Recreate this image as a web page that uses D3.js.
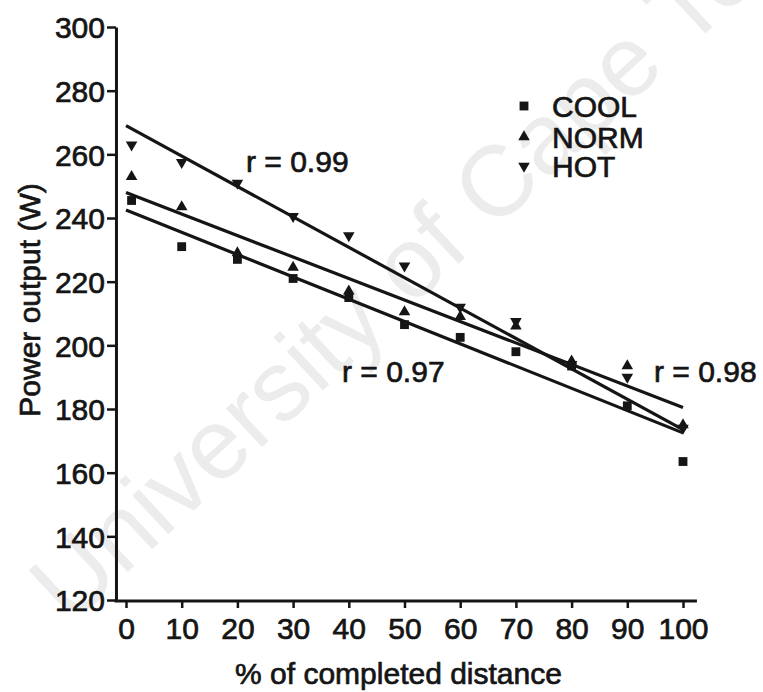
<!DOCTYPE html>
<html>
<head>
<meta charset="utf-8">
<script src="https://cdn.jsdelivr.net/npm/d3@7"></script>
<style>
  html, body { margin: 0; padding: 0; background: #fff; }
  svg { display: block; }
  text { font-family: "Liberation Sans", Arial, Helvetica, sans-serif; }
</style>
</head>
<body>
<svg id="chart" width="763" height="692"></svg>
<script>
// ---- data ----
const distance = [1, 10, 20, 30, 40, 50, 60, 70, 80, 90, 100];
const cool = [245.5, 231, 227, 221, 215, 206.5, 202.5, 198, 193.5, 181, 163.5];
const norm = [253, 243.5, 229, 224.5, 217, 210.5, 209, 206, 195, 193.5, 175];
const hot  = [263, 257.5, 251, 240.5, 234.5, 225, 212, 207.5, 194, 190, 174];

// regression lines, at 0% and 100%
const fitX = [0, 100];
const coolFit = [242.5, 172.5];
const normFit = [248, 180.5];
const hotFit  = [269, 173.5];

const seriesNames = ["COOL", "NORM", "HOT"];
const rLabels = ["r = 0.99", "r = 0.97", "r = 0.98"];
const xTicks = [0, 10, 20, 30, 40, 50, 60, 70, 80, 90, 100];
const yTicks = [120, 140, 160, 180, 200, 220, 240, 260, 280, 300];

// ---- drawing ----
const svg = d3.select("#chart");
const ink = "#151515";
const thick = 0.7;

// watermark
svg.append("text")
  .attr("transform", "translate(70,626) rotate(-43)")
  .attr("font-size", 100)
  .attr("fill", "#ececec")
  .text("University of Cape Town");

const x = d3.scaleLinear().domain([0, 100]).range([126, 683]);
const y = d3.scaleLinear().domain([120, 300]).range([600, 27]);

function styleText(sel) {
  sel.attr("font-size", 30).attr("fill", ink)
    .attr("stroke", ink).attr("stroke-width", thick)
    .attr("font-family", '"Liberation Sans", Arial, sans-serif');
}

// y axis
const yAxis = svg.append("g")
  .attr("transform", `translate(${x(-1.8)},0)`)
  .call(d3.axisLeft(y).tickValues(yTicks).tickSize(9).tickSizeOuter(0).tickPadding(2));
yAxis.select(".domain").attr("stroke", ink).attr("stroke-width", 3);
yAxis.selectAll(".tick line").attr("stroke", ink).attr("stroke-width", 2.5);
yAxis.selectAll(".tick text").call(styleText).attr("dy", "0.36em");

// x axis
const xAxis = svg.append("g")
  .attr("transform", `translate(0,${y(120) + 1})`)
  .call(d3.axisBottom(x).tickValues(xTicks).tickSize(7).tickSizeOuter(0).tickPadding(10));
xAxis.select(".domain").remove();
xAxis.append("line")
  .attr("x1", x(-1.8) - 1.5).attr("x2", x(102.5))
  .attr("y1", 0).attr("y2", 0)
  .attr("stroke", ink).attr("stroke-width", 3);
xAxis.selectAll(".tick line").attr("stroke", ink).attr("stroke-width", 2.5);
xAxis.selectAll(".tick text").call(styleText);

// axis titles
svg.append("text")
  .attr("x", (x(0) + x(100)) / 2 - 6).attr("y", 684)
  .attr("text-anchor", "middle").call(styleText)
  .text("% of completed distance");
svg.append("text")
  .attr("transform", "translate(40,300) rotate(-90)")
  .attr("text-anchor", "middle").call(styleText)
  .text("Power output (W)");

// fit lines
const fits = [coolFit, normFit, hotFit];
const line = d3.line().x(d => x(d[0])).y(d => y(d[1]));
fits.forEach(f => {
  svg.append("path")
    .attr("d", line(fitX.map((v, i) => [v, f[i]])))
    .attr("fill", "none").attr("stroke", ink).attr("stroke-width", 3.2);
});

// markers
const sq = d3.symbol().type(d3.symbolSquare).size(78);
const tri = d3.symbol().type(d3.symbolTriangle).size(58);
const markers = [
  { vals: cool, path: sq(), rot: 0 },
  { vals: norm, path: tri(), rot: 0 },
  { vals: hot,  path: tri(), rot: 180 }
];
markers.forEach(m => {
  svg.append("g").selectAll("path")
    .data(distance.map((d, i) => [d, m.vals[i]]))
    .join("path")
    .attr("d", m.path)
    .attr("transform", d => `translate(${x(d[0])},${y(d[1])}) rotate(${m.rot})`)
    .attr("fill", ink);
});

// legend
const legY = [106, 137, 166];
const legTextY = [117, 148, 177];
markers.forEach((m, i) => {
  svg.append("path").attr("d", m.path)
    .attr("transform", `translate(524,${legY[i]}) rotate(${m.rot})`)
    .attr("fill", ink);
  svg.append("text").attr("x", 552).attr("y", legTextY[i])
    .call(styleText).text(seriesNames[i]);
});

// r annotations
const rPos = [[246, 172], [342, 382], [654, 382]];
rLabels.forEach((t, i) => {
  svg.append("text").attr("x", rPos[i][0]).attr("y", rPos[i][1])
    .call(styleText).text(t);
});
</script>
</body>
</html>
